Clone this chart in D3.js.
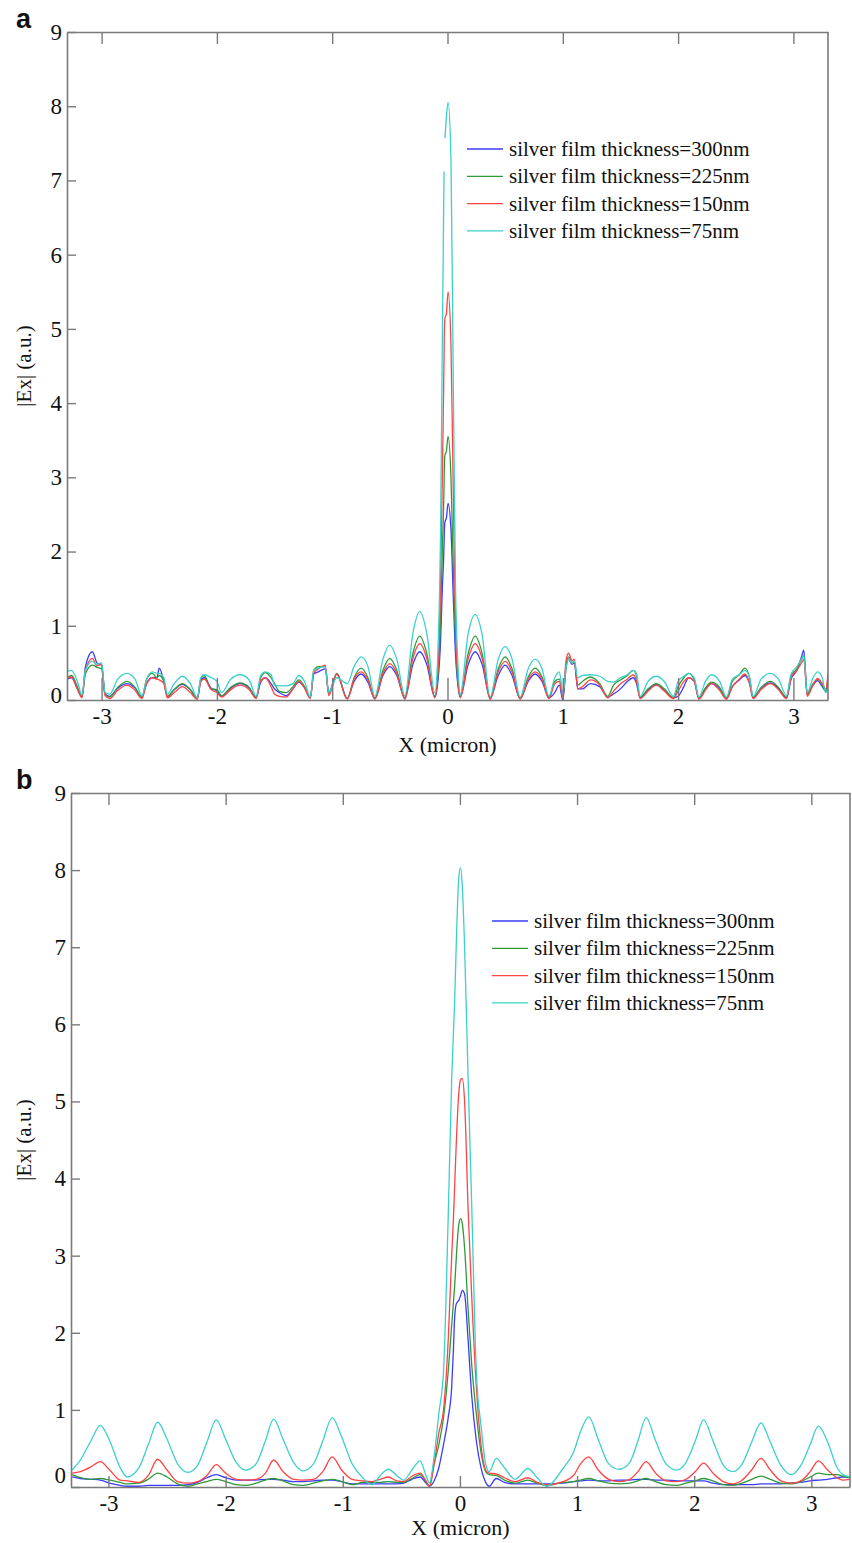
<!DOCTYPE html>
<html>
<head>
<meta charset="utf-8">
<script src="https://cdnjs.cloudflare.com/ajax/libs/d3/7.8.5/d3.min.js"></script>
<style>
  body { margin: 0; background: #fff; }
  svg { display: block; }
</style>
</head>
<body>
<div id="chart"></div>
<script>
// Données
const xTicks = [-3, -2, -1, 0, 1, 2, 3];
const yTicks = [0, 1, 2, 3, 4, 5, 6, 7, 8, 9];
const legendLabels = ['silver film thickness=300nm', 'silver film thickness=225nm',
  'silver film thickness=150nm', 'silver film thickness=75nm'];
const seriesColors = ['#3b3bff', '#2f9a3a', '#ff4444', '#3cd0cc'];

// Panneau a
const xA = [-3.30, -3.26, -3.21, -3.17, -3.14, -3.08, -3.04, -3.00, -2.97, -2.93, -2.86, -2.78, -2.71, -2.65,
  -2.61, -2.56, -2.52, -2.50, -2.46, -2.43, -2.37, -2.30, -2.23, -2.17, -2.14, -2.11, -2.05, -2.00, -1.96,
  -1.88, -1.80, -1.72, -1.66, -1.62, -1.58, -1.53, -1.50, -1.46, -1.40, -1.34, -1.29, -1.24, -1.19, -1.16,
  -1.12, -1.06, -1.03, -0.96, -0.87, -0.81, -0.75, -0.69, -0.63, -0.56, -0.50, -0.44, -0.37, -0.30, -0.24,
  -0.18, -0.11, -0.08, -0.06, -0.045, -0.03, -0.028, -0.022, -0.01, 0.005, 0.03, 0.05, 0.07, 0.09, 0.11,
  0.18, 0.24, 0.30, 0.37, 0.44, 0.50, 0.56, 0.63, 0.70, 0.76, 0.82, 0.88, 0.93, 0.97, 1.00, 1.03, 1.05,
  1.08, 1.10, 1.13, 1.17, 1.24, 1.32, 1.39, 1.44, 1.50, 1.56, 1.61, 1.64, 1.67, 1.74, 1.81, 1.88, 1.96,
  2.00, 2.05, 2.09, 2.14, 2.18, 2.24, 2.29, 2.36, 2.42, 2.47, 2.53, 2.58, 2.62, 2.65, 2.72, 2.80, 2.87,
  2.94, 2.98, 3.03, 3.07, 3.09, 3.12, 3.17, 3.21, 3.25, 3.28, 3.30];
const a75 = [.38, .40, .25, .07, .40, .52, .48, .50, .10, .08, .28, .36, .28, .06,
  .28, .38, .36, .36, .30, .08, .22, .32, .22, .03, .30, .34, .30, .25, .10,
  .28, .34, .27, .05, .33, .38, .34, .20, .19, .19, .22, .33, .25, .04, .40,
  .43, .45, .10, .30, .22, .45, .58, .45, .05, .55, .74, .55, .06, .90, 1.19,
  .90, .10, .8, 2.3, 4.8, 7.12, null, 7.57, 7.85, 8.05, 7.3, 4.3, 1.5, .5, .08,
  .90, 1.15, .88, .04, .55, .72, .55, .04, .42, .55, .42, .05, .30, .38, .10, .45, .55,
  .50, .52, .30, .33, .34, .32, .25, .24, .30, .34, .40, .35, .05, .25, .32, .25, .05,
  .25, .32, .36, .30, .04, .26, .34, .25, .04, .28, .34, .40, .30, .05, .28, .36, .28,
  .06, .35, .45, .55, .60, .10, .30, .38, .30, .10, .15];
const a225 = [.30, .33, .18, .05, .35, .47, .44, .42, .08, .04, .17, .25, .17, .03,
  .28, .36, .30, .33, .25, .05, .14, .22, .14, .02, .28, .33, .15, .14, .06,
  .17, .23, .17, .03, .30, .37, .30, .22, .12, .10, .18, .27, .18, .03, .40,
  .45, .45, .08, .36, .02, .30, .43, .30, .02, .40, .56, .40, .02, .63, .86,
  .63, .05, .4, 1.1, 2.0, 2.9, 3.1, 3.3, 3.35, 3.55, 3.0, 1.8, .8, .25, .05,
  .63, .86, .63, .02, .42, .58, .42, .02, .31, .43, .31, .04, .25, .28, .05, .50, .58,
  .50, .52, .20, .25, .31, .22, .05, .20, .27, .33, .40, .32, .04, .15, .22, .15, .03,
  .18, .30, .36, .28, .03, .17, .24, .17, .03, .25, .34, .43, .30, .04, .17, .25, .17,
  .04, .33, .42, .55, .60, .08, .22, .28, .20, .12, .30];
const a150 = [.30, .31, .15, .03, .40, .56, .46, .48, .06, .02, .13, .20, .13, .02,
  .22, .30, .28, .27, .22, .03, .10, .18, .10, .01, .25, .28, .14, .10, .04,
  .14, .20, .14, .02, .26, .30, .18, .08, .05, .04, .15, .25, .16, .02, .36,
  .42, .47, .06, .35, .01, .28, .38, .27, .01, .36, .49, .36, .01, .56, .76,
  .56, .03, .5, 1.6, 3.0, 4.6, 4.9, 5.15, 5.2, 5.5, 4.8, 2.8, 1.0, .3, .03,
  .56, .76, .56, .01, .38, .52, .38, .01, .28, .38, .28, .02, .22, .25, .03, .55, .63,
  .53, .55, .15, .18, .27, .20, .03, .12, .22, .28, .34, .25, .02, .12, .20, .12, .02,
  .12, .25, .30, .25, .01, .14, .22, .13, .01, .18, .28, .35, .22, .02, .14, .22, .14,
  .02, .30, .40, .50, .55, .05, .20, .29, .22, .15, .36];
const a300 = [.28, .30, .15, .04, .45, .65, .50, .47, .08, .05, .16, .22, .16, .04,
  .22, .30, .30, .43, .25, .05, .14, .21, .14, .03, .25, .30, .16, .12, .05,
  .16, .22, .16, .04, .24, .30, .22, .15, .10, .06, .15, .24, .17, .03, .35,
  .38, .42, .10, .35, .02, .25, .35, .24, .02, .33, .45, .33, .03, .48, .65,
  .48, .04, .3, .8, 1.5, 2.1, 2.25, 2.4, 2.45, 2.65, 2.3, 1.4, .6, .2, .04,
  .48, .65, .48, .03, .33, .47, .33, .02, .25, .35, .25, .03, .10, .20, .00, .45, .55,
  .48, .50, .15, .15, .22, .18, .04, .08, .15, .25, .30, .22, .03, .14, .21, .14, .03,
  .05, .18, .30, .25, .02, .16, .22, .15, .02, .18, .27, .33, .22, .03, .16, .23, .16,
  .03, .28, .40, .58, .67, .08, .20, .26, .18, .12, .25];

// Panneau b
const xB = [-3.31, -3.24, -3.15, -3.07, -2.99, -2.90, -2.84, -2.74, -2.66, -2.58, -2.50, -2.41, -2.32,
  -2.24, -2.16, -2.08, -2.00, -1.91, -1.83, -1.74, -1.66, -1.59, -1.51, -1.42, -1.34, -1.25, -1.17, -1.09,
  -1.01, -0.92, -0.83, -0.75, -0.68, -0.61, -0.54, -0.48, -0.41, -0.34, -0.29, -0.26, -0.22, -0.18, -0.14,
  -0.10, -0.07, -0.055, -0.045, -0.03, -0.01, 0.005, 0.02, 0.04, 0.07, 0.10, 0.14, 0.18, 0.22, 0.25, 0.31,
  0.38, 0.47, 0.58, 0.66, 0.74, 0.88, 0.97, 1.03, 1.10, 1.18, 1.27, 1.36, 1.45, 1.52, 1.59, 1.67, 1.76,
  1.85, 1.93, 2.01, 2.08, 2.16, 2.25, 2.33, 2.41, 2.49, 2.57, 2.65, 2.74, 2.83, 2.91, 2.99, 3.06, 3.14,
  3.22, 3.27, 3.33];
const b75 = [.22, .35, .60, .80, .60, .25, .13, .25, .55, .84, .62, .30, .19,
  .28, .58, .87, .62, .32, .22, .30, .60, .88, .62, .32, .21, .30, .60, .90,
  .65, .30, .12, .03, .15, .23, .15, .09, .22, .34, .15, .05, .40, .95, 1.5,
  3.5, 5.3, 5.9, 6.3, 7.1, 7.9, 8.03, 7.8, 7.0, 5.3, 3.7, 1.5, .8, .30, .20, .37,
  .25, .10, .24, .12, .01, .24, .45, .72, .91, .62, .30, .23, .32, .60, .90, .60, .30,
  .22, .32, .60, .87, .60, .28, .20, .30, .58, .83, .58, .28, .16, .28, .55, .79, .58,
  .25, .16, .13];
const b150 = [.18, .20, .26, .33, .22, .09, .08, .06, .15, .36, .22, .07, .05,
  .07, .15, .29, .18, .10, .09, .10, .18, .35, .20, .10, .09, .10, .20, .39,
  .22, .10, .08, .07, .10, .13, .08, .07, .14, .18, .08, .01, .30, .70, 1.0,
  1.9, 3.0, 3.5, 3.9, 4.5, 5.1, 5.28, 5.3, 5.0, 3.6, 2.5, 1.3, .55, .22, .18, .17,
  .12, .07, .12, .06, .03, .07, .15, .30, .39, .22, .10, .07, .10, .20, .33, .18, .08,
  .07, .10, .20, .31, .18, .07, .04, .09, .22, .37, .22, .08, .05, .08, .20, .34, .22,
  .12, .09, .10];
const b225 = [.16, .12, .10, .11, .09, .06, .04, .05, .10, .18, .13, .04, .01,
  .04, .07, .10, .07, .03, .02, .05, .09, .11, .08, .03, .02, .05, .08, .10,
  .07, .03, .06, .06, .06, .07, .06, .06, .11, .16, .07, .01, .30, .55, .9,
  1.5, 2.1, 2.4, 2.6, 3.0, 3.4, 3.48, 3.42, 3.1, 2.3, 1.6, .95, .45, .20, .16, .15,
  .09, .05, .09, .05, .02, .06, .07, .09, .11, .08, .05, .04, .05, .08, .11, .07, .03,
  .02, .05, .08, .11, .08, .03, .02, .05, .10, .14, .10, .05, .04, .07, .13, .18, .16,
  .16, .14, .12];
const b300 = [.13, .11, .10, .09, .05, .02, .01, .01, .02, .02, .02, .02, .03,
  .06, .12, .16, .12, .09, .09, .09, .10, .10, .09, .07, .07, .08, .09, .09,
  .07, .04, .04, .04, .04, .04, .04, .05, .10, .13, .05, .01, .08, .25, .55,
  .9, 1.3, 1.8, 2.2, 2.38, 2.42, 2.48, 2.55, 2.5, 1.9, 1.2, .6, .25, .06, .01, .11,
  .06, .04, .04, .04, .04, .05, .07, .08, .09, .08, .08, .09, .09, .10, .10, .09, .09,
  .08, .08, .08, .08, .05, .03, .03, .03, .03, .04, .04, .04, .05, .06, .08, .09, .10,
  .12, .13, .13];

const configA = {
  name: 'a', left: 67, right: 828, top: 32, bottom: 700,
  xDomain: [-3.3, 3.3], bottomTick: 22, zeroShift: -5,
  legendX: 467, legendY: 149, xLabelY: 752
};
const configB = {
  name: 'b', left: 71, right: 850, top: 793, bottom: 1487,
  xDomain: [-3.32, 3.33], bottomTick: 11, zeroShift: -12,
  legendX: 492, legendY: 921, xLabelY: 1535
};

const svg = d3.select('#chart').append('svg')
  .attr('width', 852)
  .attr('height', 1543);

drawPanel(svg, configA, xA, [a300, a225, a150, a75]);
drawPanel(svg, configB, xB, [b300, b225, b150, b75]);

function drawPanel (svg, config, xs, values) {
  const serif = '"Liberation Serif", "Times New Roman", serif';
  const xScale = d3.scaleLinear().domain(config.xDomain).range([config.left, config.right]);
  const yScale = d3.scaleLinear().domain([0, 9]).range([config.bottom, config.top]);
  const g = svg.append('g').attr('class', 'panel-' + config.name);

  // Zone de découpage
  g.append('clipPath').attr('id', 'clip-' + config.name)
    .append('rect')
    .attr('x', config.left).attr('y', config.top)
    .attr('width', config.right - config.left)
    .attr('height', config.bottom - config.top);

  // Courbes
  const line = d3.line()
    .defined(d => d[1] != null)
    .x(d => xScale(d[0]))
    .y(d => yScale(d[1]))
    .curve(d3.curveMonotoneX);

  const curves = g.append('g').attr('clip-path', `url(#clip-${config.name})`);
  values.forEach((vals, i) => {
    curves.append('path')
      .datum(xs.map((x, j) => [x, vals[j]]))
      .attr('fill', 'none')
      .attr('stroke', seriesColors[i])
      .attr('stroke-width', 1.3)
      .attr('stroke-linejoin', 'round')
      .attr('d', line);
  });

  // Axes (graduations vers l'intérieur)
  const bottomAxis = g.append('g')
    .attr('transform', `translate(0,${config.bottom})`)
    .call(d3.axisBottom(xScale).tickValues(xTicks).tickSize(-config.bottomTick)
      .tickSizeOuter(0).tickPadding(8).tickFormat(d => String(d)));
  const topAxis = g.append('g')
    .attr('transform', `translate(0,${config.top})`)
    .call(d3.axisTop(xScale).tickValues(xTicks).tickSize(-12).tickSizeOuter(0).tickFormat(''));
  const leftAxis = g.append('g')
    .attr('transform', `translate(${config.left},0)`)
    .call(d3.axisLeft(yScale).tickValues(yTicks).tickSize(-9).tickSizeOuter(0)
      .tickPadding(5).tickFormat(d => String(d)));

  [bottomAxis, topAxis, leftAxis].forEach(ax => {
    ax.attr('font-family', serif);
    ax.selectAll('.domain').attr('stroke', '#7a7a7a').attr('stroke-width', 1.6);
    ax.selectAll('.tick line').attr('stroke', '#7a7a7a').attr('stroke-width', 1.4);
    ax.selectAll('.tick text')
      .attr('font-family', serif).attr('font-size', 23).attr('fill', '#111');
  });
  leftAxis.selectAll('.tick text').filter(d => d === 0)
    .attr('transform', `translate(0,${config.zeroShift})`);

  g.append('line')
    .attr('x1', config.right).attr('x2', config.right)
    .attr('y1', config.top).attr('y2', config.bottom)
    .attr('stroke', '#7a7a7a').attr('stroke-width', 1.6);

  // Légende
  const legend = g.append('g');
  legendLabels.forEach((label, i) => {
    const y = config.legendY + i * 27.3;
    legend.append('line')
      .attr('x1', config.legendX).attr('x2', config.legendX + 36)
      .attr('y1', y).attr('y2', y)
      .attr('stroke', seriesColors[i]).attr('stroke-width', 1.3);
    legend.append('text')
      .attr('x', config.legendX + 42).attr('y', y)
      .attr('dominant-baseline', 'central')
      .attr('font-family', serif).attr('font-size', 21).attr('fill', '#111')
      .text(label);
  });

  // Titres des axes
  g.append('text')
    .attr('x', (config.left + config.right) / 2).attr('y', config.xLabelY)
    .attr('text-anchor', 'middle')
    .attr('font-family', serif).attr('font-size', 22).attr('fill', '#111')
    .text('X (micron)');
  g.append('text')
    .attr('transform', `translate(31,${(config.top + config.bottom) / 2}) rotate(-90)`)
    .attr('text-anchor', 'middle')
    .attr('font-family', serif).attr('font-size', 21).attr('fill', '#111')
    .text('|Ex| (a.u.)');

  // Lettre du panneau
  g.append('text')
    .attr('x', 16).attr('y', config.top - 4)
    .attr('font-family', '"Liberation Sans", Arial, sans-serif')
    .attr('font-weight', 'bold').attr('font-size', 27).attr('fill', '#111')
    .text(config.name);
}
</script>
</body>
</html>
